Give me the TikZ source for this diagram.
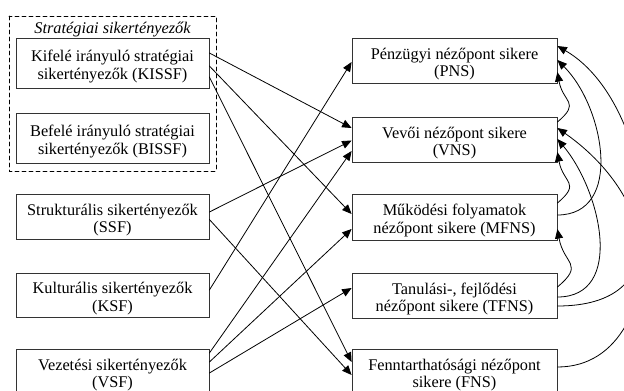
\documentclass[tikz,border=0pt]{standalone}
\usepackage{fontspec}
\setmainfont{Liberation Serif}
\usetikzlibrary{arrows.meta}
\begin{document}
\begin{tikzpicture}[x=1pt,y=-1pt,line cap=round,font=\fontsize{16.3}{17.5}\selectfont,
 lbox/.style={draw=black!80,line width=.8pt,align=center,inner sep=0pt,minimum width=193pt,text height=36pt,text depth=4pt},
 rbox/.style={lbox,minimum width=205pt},
 arr/.style={-{Triangle[length=9.5pt,width=8pt]},line width=.8pt}]
\useasboundingbox(0,0)rectangle(624,391);\clip(0,0)rectangle(624,391);
% strategic group
\draw[line width=.8pt,dash pattern=on 4pt off 3pt](9,16)rectangle(216,171);
\node[anchor=base,inner sep=0pt,font=\fontsize{16.3}{17.5}\selectfont\itshape](STRAT)at(112.5,33){Stratégiai sikertényezők};
% left column
\node[lbox,minimum height=50pt](KISSF)at(112.5,63){Kifelé irányuló stratégiai\\sikertényezők (KISSF)};
\node[lbox,minimum height=50pt](BISSF)at(112.5,138){Befelé irányuló stratégiai\\sikertényezők (BISSF)};
\node[lbox,minimum height=45pt](SSF)at(112.5,216.5){Strukturális sikertényezők\\(SSF)};
\node[lbox,minimum height=44pt](KSF)at(112.5,295){Kulturális sikertényezők\\(KSF)};
\node[lbox,minimum height=45pt](VSF)at(112.5,371.5){Vezetési sikertényezők\\(VSF)};
% right column
\node[rbox,minimum height=45pt](PNS)at(454.5,60.5){Pénzügyi nézőpont sikere\\(PNS)};
\node[rbox,minimum height=45pt](VNS)at(454.5,139.5){Vevői nézőpont sikere\\(VNS)};
\node[rbox,minimum height=46pt](MFNS)at(454.5,217){Működési folyamatok\\nézőpont sikere (MFNS)};
\node[rbox,minimum height=45pt](TFNS)at(454.5,295.5){Tanulási-, fejlődési\\nézőpont sikere (TFNS)};
\node[rbox,minimum height=45pt](FNS)at(454.5,371.5){Fenntarthatósági nézőpont\\sikere (FNS)};
% factors -> perspectives
\draw[arr]([yshift=10pt]KISSF.east)--([yshift=11.5pt]VNS.west);\draw[arr]([yshift=-3pt]KISSF.east)--([yshift=3pt]MFNS.west);\draw[arr]([yshift=-14pt]KISSF.east)--([yshift=9.5pt]FNS.west);
\draw[arr]([yshift=4.5pt]SSF.east)--([yshift=-1pt]VNS.west);\draw[arr]([yshift=-3pt]SSF.east)--([yshift=-3.5pt]FNS.west);
\draw[arr]([yshift=5pt]KSF.east)--([yshift=-1.5pt]PNS.west);
\draw[arr]([yshift=18.5pt]VSF.east)--([yshift=-11.5pt]VNS.west);\draw[arr]([yshift=9.5pt]VSF.east)--([yshift=-12pt]MFNS.west);\draw[arr]([yshift=-1.5pt]VSF.east)--([yshift=7.5pt]TFNS.west);
% perspectives -> perspectives
\draw[arr]([yshift=17.5pt]VNS.east)to[out=40,in=-80,looseness=1.6]([yshift=-11.5pt]PNS.east);
\draw[arr]([yshift=14pt]MFNS.east)to[out=40,in=-80,looseness=1.6]([yshift=-12.5pt]VNS.east);
\draw[arr]([yshift=8.5pt]TFNS.east)to[out=40,in=-80,looseness=1.6]([yshift=-12pt]MFNS.east);
\draw[arr]([yshift=2pt]MFNS.east)to[out=0,in=-45,looseness=1.1]([yshift=.5pt]PNS.east);
\draw[arr]([yshift=-1.5pt]TFNS.east)to[out=0,in=-50,looseness=1.1]([yshift=.5pt]VNS.east);
\draw[arr]([yshift=-10.5pt]TFNS.east)to[out=0,in=-35,looseness=1.7]([yshift=11.5pt]VNS.east);
\draw[arr]([yshift=4.5pt]FNS.east)to[out=0,in=-30,looseness=1]([yshift=14.5pt]PNS.east);
\end{tikzpicture}
\end{document}
